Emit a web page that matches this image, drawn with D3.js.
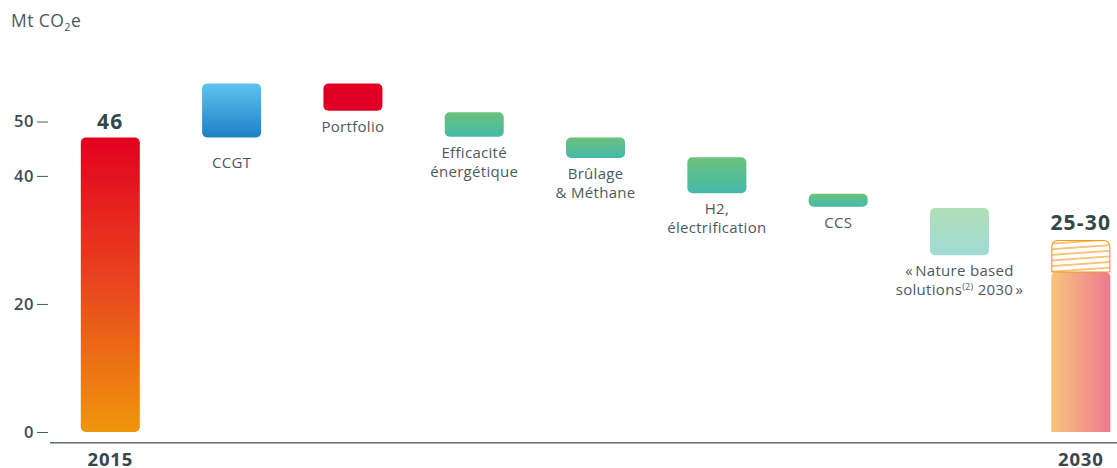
<!DOCTYPE html>
<html>
<head>
<meta charset="utf-8">
<script src="https://cdn.jsdelivr.net/npm/d3@7"></script>
<style>
  body { margin: 0; background: #fff; }
  svg { display: block; font-family: "Open Sans", sans-serif; }
</style>
</head>
<body>
<div id="chart"></div>
<script>
// waterfall steps, values in Mt CO2e (floating bars go from low to high)
const steps = ["2015", "CCGT", "Portfolio", "Efficacité", "Brûlage", "H2", "CCS", "Nature", "2030"];
const lows  = [0,  46,   52.7, 46.2, 42.8, 37.3, 35.2, 27.6, 0];
const highs = [46, 59.5, 59.5, 52.3, 46,   42.9, 37.2, 35,   25];
const range2030 = [25, 30];

const stepLabels = [
    [],
    ["CCGT"],
    ["Portfolio"],
    ["Efficacité", "énergétique"],
    ["Brûlage", "& Méthane"],
    ["H2,", "électrification"],
    ["CCS"],
    ["«\u202FNature based", "solutions(2) 2030\u202F»"],
    []
];
const valueLabels = ["46", "25-30"];
const yearLabels = ["2015", "2030"];
const tickValues = [0, 20, 40, 50];

const width = 1117;
const height = 468;
const bw = 59;

const svg = d3.select("#chart")
    .append("svg")
    .attr("width", width)
    .attr("height", height);

const defs = svg.append("defs");

function linGrad(id, stops, horizontal) {
    const g = defs.append("linearGradient")
        .attr("id", id)
        .attr("x1", 0).attr("y1", 0)
        .attr("x2", horizontal ? 1 : 0)
        .attr("y2", horizontal ? 0 : 1);
    stops.forEach(([o, c]) => g.append("stop").attr("offset", o).attr("stop-color", c));
}

linGrad("g2015", [[0, "#e2001f"], [0.5, "#e9461f"], [1, "#ef960a"]]);
linGrad("gCcgt", [[0, "#5fc4f0"], [1, "#1b81c5"]]);
linGrad("gGreen", [[0, "#6dc17b"], [1, "#44b9ab"]]);
linGrad("gNature", [[0, "#b2dfba"], [1, "#9fdad5"]]);
linGrad("g2030", [[0, "#f5c67c"], [1, "#ef7990"]], true);

const fills = ["url(#g2015)", "url(#gCcgt)", "#e10025", "url(#gGreen)", "url(#gGreen)",
    "url(#gGreen)", "url(#gGreen)", "url(#gNature)", "url(#g2030)"];

// hatch for the 25-30 range
const hatch = defs.append("pattern")
    .attr("id", "hatch")
    .attr("patternUnits", "userSpaceOnUse")
    .attr("width", 14)
    .attr("height", 5.6)
    .attr("patternTransform", "rotate(-4)");
hatch.append("rect").attr("width", 14).attr("height", 5.6).attr("fill", "#fff");
hatch.append("line")
    .attr("x1", 0).attr("x2", 14)
    .attr("y1", 2.8).attr("y2", 2.8)
    .attr("stroke", "#f29a12")
    .attr("stroke-width", 1.1);

// the picture's axis is compressed above 46
const y = d3.scaleLinear()
    .domain([0, 46, 50])
    .range([432, 137.5, 121.5]);

const x = d3.scalePoint()
    .domain(steps)
    .range([110.3, 1080.8]);

function barPath(x0, y0, w, h, rt, rb) {
    return `M${x0},${y0 + rt}` +
        `a${rt},${rt} 0 0 1 ${rt},${-rt}` +
        `h${w - 2 * rt}` +
        `a${rt},${rt} 0 0 1 ${rt},${rt}` +
        `v${h - rt - rb}` +
        `a${rb},${rb} 0 0 1 ${-rb},${rb}` +
        `h${-(w - 2 * rb)}` +
        `a${rb},${rb} 0 0 1 ${-rb},${-rb}Z`;
}

const data = steps.map((s, i) => ({s: s, lo: lows[i], hi: highs[i], i: i}));

svg.append("g")
    .selectAll("path")
    .data(data)
    .join("path")
    .attr("d", d => barPath(x(d.s) - bw / 2, y(d.hi), bw, y(d.lo) - y(d.hi), 5, d.s === "2030" ? 0 : 5))
    .attr("fill", d => fills[d.i]);

// 2030 hatched range
svg.append("path")
    .attr("d", barPath(x("2030") - bw / 2 + 0.5, y(range2030[1]) + 0.5, bw - 1,
        y(range2030[0]) - y(range2030[1]) - 0.5, 6, 0))
    .attr("fill", "url(#hatch)")
    .attr("stroke", "#f29a12")
    .attr("stroke-width", 1.1);

// y axis
const yAxis = svg.append("g")
    .attr("transform", "translate(48,0)")
    .call(d3.axisLeft(y).tickValues(tickValues).tickSize(11).tickPadding(3));
yAxis.select(".domain").remove();
yAxis.selectAll(".tick line").attr("stroke", "#4a5a5f");
yAxis.selectAll(".tick text")
    .attr("fill", "#3c4c51")
    .style("font-family", "'Open Sans', sans-serif")
    .style("font-size", "16.5px")
    .style("font-weight", 600)
    .style("letter-spacing", "0.6px");

// baseline
svg.append("line")
    .attr("x1", 50).attr("x2", width)
    .attr("y1", y(0) + 10.7).attr("y2", y(0) + 10.7)
    .attr("stroke", "#5d6d71")
    .attr("stroke-width", 1.5);

// unit
const unit = svg.append("text")
    .attr("x", 11)
    .attr("y", 27)
    .attr("fill", "#4b5a5f")
    .style("font-size", "17.5px")
    .style("letter-spacing", "0.4px");
unit.append("tspan").text("Mt CO");
unit.append("tspan").attr("dy", 4).style("font-size", "11px").text("2");
unit.append("tspan").attr("dy", -4).text("e");

// value labels
svg.append("text")
    .attr("x", x(steps[0]))
    .attr("y", y(highs[0]) - 9)
    .attr("text-anchor", "middle")
    .attr("fill", "#36474c")
    .style("font-size", "21px")
    .style("font-weight", 700)
    .style("letter-spacing", "1.2px")
    .text(valueLabels[0]);

svg.append("text")
    .attr("x", x(steps[8]))
    .attr("y", y(range2030[1]) - 10)
    .attr("text-anchor", "middle")
    .attr("fill", "#36474c")
    .style("font-size", "21px")
    .style("font-weight", 700)
    .style("letter-spacing", "1.2px")
    .text(valueLabels[1]);

// year labels
svg.selectAll("text.year")
    .data([steps[0], steps[8]])
    .join("text")
    .attr("class", "year")
    .attr("x", d => x(d))
    .attr("y", 465.5)
    .attr("text-anchor", "middle")
    .attr("fill", "#36474c")
    .style("font-size", "18.5px")
    .style("font-weight", 700)
    .style("letter-spacing", "0.8px")
    .text((d, i) => yearLabels[i]);

// step labels under each floating bar
data.forEach(d => {
    const lines = stepLabels[d.i];
    if (!lines.length) return;
    const gap = d.s === "CCGT" ? 30 : 21;
    const t = svg.append("text")
        .attr("text-anchor", "middle")
        .attr("fill", "#4b5a5f")
        .style("font-size", "15px")
        .style("letter-spacing", "0.3px");
    lines.forEach((line, j) => {
        const ly = y(d.lo) + gap + j * 19;
        if (line.includes("(2)")) {
            const parts = line.split("(2)");
            t.append("tspan").attr("x", x(d.s)).attr("y", ly).text(parts[0]);
            t.append("tspan").attr("dy", -5).style("font-size", "9px").text("(2)");
            t.append("tspan").attr("dy", 5).text(parts[1]);
        } else {
            t.append("tspan").attr("x", x(d.s)).attr("y", ly).text(line);
        }
    });
});
</script>
</body>
</html>
